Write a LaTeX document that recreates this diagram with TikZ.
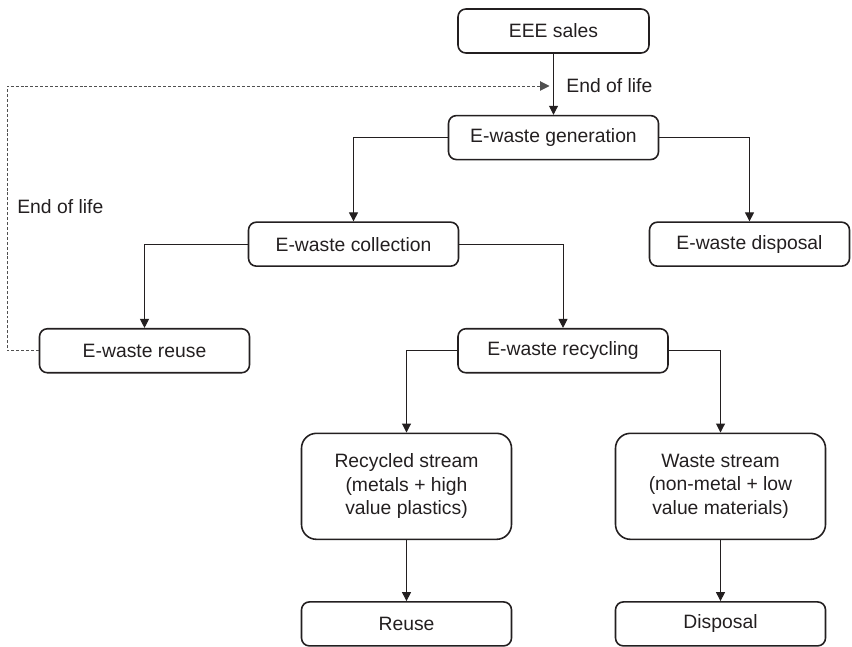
\documentclass[tikz,border=0pt]{standalone}
\usepackage{fontspec}
\setmainfont{Liberation Sans}
\usepackage{xcolor}
\usetikzlibrary{arrows.meta, positioning}
\definecolor{cLine}{RGB}{35,31,32}
\definecolor{cDash}{RGB}{80,80,80}
\tikzset{
	stage/.style ={rectangle, rounded corners=4.5pt, draw=cLine, line width=0.9pt, minimum width=4.2cm, minimum height=0.88cm, align=center, text=cLine, font=\fontsize{11}{13.3}\selectfont},
	stream/.style={stage, rounded corners=8.5pt, minimum height=2.12cm},
	flowarrow/.style={-{Triangle[length=1.8mm, width=1.8mm]}, line width=0.55pt, draw=cLine},
	backarrow/.style={-{Triangle[length=1.9mm, width=1.9mm]}, line width=0.55pt, draw=cDash, dash pattern=on 1.7pt off 1.1pt},
}
\begin{document}
\begin{tikzpicture}[node distance=1.22cm,
		lbl/.style={inner sep=0pt, anchor=west, text=cLine, font=\fontsize{11}{13.3}\selectfont}]
	\useasboundingbox (0,0) rectangle (17.04,-12.94);
	\node[stage, minimum width=3.82cm] (sales) at (11.07,-0.62) {EEE sales};
	\node[stage, below=of sales] (gen) {E-waste generation};
	\node[stage, below=of gen, xshift=-4cm] (coll) {E-waste collection};
	\node[stage, below=of gen, xshift=3.92cm, minimum width=4.0cm] (disp) {E-waste disposal};
	\node[stage, below=of coll, xshift=-4.18cm] (ereuse) {E-waste reuse};
	\node[stage, below=of coll, xshift=4.19cm] (recyc) {E-waste recycling};
	\node[stream, below=1.18cm of recyc, xshift=-3.13cm] (rstream) {Recycled stream\\ (metals + high\\ value plastics)};
	\node[stream, below=1.18cm of recyc, xshift=3.15cm] (wstream) {Waste stream\\ (non-metal + low\\ value materials)};
	\node[stage, below=of rstream] (reuse) {Reuse};
	\node[stage, below=of wstream] (disp2) {Disposal};
	% labels
	\node[lbl] (eol1) at (11.32,-1.72) {End of life};
	\node[lbl] (eol2) at (0.34,-4.14) {End of life};
	\coordinate (loop) at (0.14,-1.72);
	% connectors
	\draw[flowarrow] (sales) -- (gen);
	\draw[flowarrow] (gen.west) -| (coll.north);
	\draw[flowarrow] (gen.east) -| (disp.north);
	\draw[flowarrow] (coll.west) -| (ereuse.north);
	\draw[flowarrow] (coll.east) -| (recyc.north);
	\draw[flowarrow] (recyc.west) -| (rstream.north);
	\draw[flowarrow] (recyc.east) -| (wstream.north);
	\draw[flowarrow] (rstream) -- (reuse);
	\draw[flowarrow] (wstream) -- (disp2);
	\draw[backarrow, shorten >=0.8mm] (ereuse.west) -| (loop) -- (loop -| sales.south);
\end{tikzpicture}
\end{document}
